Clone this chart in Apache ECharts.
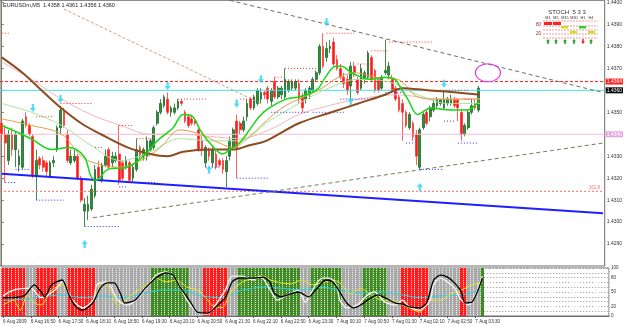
<!DOCTYPE html>
<html><head><meta charset="utf-8">
<script src="https://cdn.jsdelivr.net/npm/echarts/dist/echarts.min.js"></script>
<style>html,body{margin:0;padding:0;background:#fff}#c{width:625px;height:327px}</style>
</head><body><div id="c"></div>
<script>
// ---------- DATA ----------
const headerText = 'EURUSDm,M5  1.4358 1.4361 1.4356 1.4360';
const timeLabels = ["6 Aug 2009","6 Aug 16:50","6 Aug 17:30","6 Aug 18:10","6 Aug 18:50","6 Aug 19:30","6 Aug 20:10","6 Aug 20:50","6 Aug 21:30","6 Aug 22:10","6 Aug 22:50","6 Aug 23:30","7 Aug 00:10","7 Aug 00:50","7 Aug 01:30","7 Aug 02:10","7 Aug 02:50","7 Aug 03:30"];
const slotCount = 175; // bar slots incl. right shift
const categories = Array.from({length: slotCount}, (_, i) => String(i));

const openP = [1.4345,1.4340,1.4328,1.4340,1.4333,1.4326,1.4325,1.4348,1.4344,1.4339,
 1.4321,1.4329,1.4328,1.4327,1.4321,1.4327,1.4333,1.4343,1.4350,1.4340,
 1.4327,1.4328,1.4330,1.4320,1.4305,1.4305,1.4306,1.4312,1.4325,1.4319,
 1.4326,1.4333,1.4327,1.4328,1.4331,1.4327,1.4325,1.4327,1.4320,1.4324,
 1.4334,1.4330,1.4330,1.4333,1.4334,1.4345,1.4350,1.4353,1.4356,1.4350,
 1.4350,1.4352,1.4355,1.4350,1.4348,1.4347,1.4346,1.4342,1.4337,1.4327,
 1.4333,1.4327,1.4331,1.4328,1.4328,1.4323,1.4330,1.4334,1.4346,1.4345,
 1.4342,1.4348,1.4356,1.4352,1.4354,1.4356,1.4359,1.4361,1.4355,1.4364,
 1.4357,1.4358,1.4357,1.4360,1.4361,1.4361,1.4363,1.4357,1.4356,1.4358,
 1.4360,1.4365,1.4368,1.4380,1.4375,1.4379,1.4382,1.4374,1.4370,1.4366,
 1.4365,1.4362,1.4371,1.4365,1.4361,1.4365,1.4366,1.4375,1.4369,1.4365,
 1.4361,1.4368,1.4367,1.4365,1.4361,1.4357,1.4354,1.4350,1.4343,1.4345,
 1.4340,1.4325,1.4343,1.4350,1.4348,1.4351,1.4353,1.4354,1.4352,1.4354,
 1.4354,1.4356,1.4356,1.4350,1.4340,1.4343,1.4350,1.4354,1.4351];
const closeP = [1.4340,1.4336,1.4340,1.4333,1.4340,1.4330,1.4346,1.4344,1.4340,1.4321,
 1.4328,1.4326,1.4325,1.4323,1.4327,1.4328,1.4343,1.4351,1.4344,1.4328,
 1.4330,1.4330,1.4320,1.4310,1.4308,1.4308,1.4315,1.4324,1.4320,1.4326,
 1.4330,1.4325,1.4330,1.4330,1.4319,1.4320,1.4328,1.4319,1.4325,1.4333,
 1.4330,1.4333,1.4337,1.4337,1.4343,1.4350,1.4354,1.4357,1.4350,1.4352,
 1.4352,1.4355,1.4354,1.4346,1.4344,1.4345,1.4345,1.4333,1.4333,1.4334,
 1.4330,1.4333,1.4325,1.4326,1.4324,1.4328,1.4337,1.4342,1.4334,1.4342,
 1.4346,1.4354,1.4352,1.4357,1.4360,1.4359,1.4358,1.4356,1.4360,1.4357,
 1.4361,1.4361,1.4365,1.4364,1.4364,1.4364,1.4356,1.4352,1.4360,1.4361,
 1.4365,1.4368,1.4380,1.4371,1.4379,1.4380,1.4372,1.4370,1.4366,1.4363,
 1.4360,1.4371,1.4368,1.4359,1.4370,1.4368,1.4377,1.4365,1.4360,1.4360,
 1.4366,1.4369,1.4371,1.4360,1.4356,1.4351,1.4350,1.4344,1.4349,1.4339,
 1.4330,1.4342,1.4349,1.4345,1.4352,1.4354,1.4356,1.4356,1.4356,1.4356,
 1.4356,1.4353,1.4352,1.4340,1.4344,1.4350,1.4353,1.4352,1.4361];
const lowP = [1.4337,1.4318,1.4326,1.4330,1.4325,1.4323,1.4324,1.4343,1.4339,1.4320,
 1.4310,1.4324,1.4323,1.4321,1.4320,1.4325,1.4332,1.4340,1.4343,1.4327,
 1.4326,1.4327,1.4319,1.4309,1.4298,1.4301,1.4305,1.4311,1.4319,1.4318,
 1.4325,1.4324,1.4325,1.4327,1.4317,1.4319,1.4324,1.4318,1.4318,1.4323,
 1.4329,1.4328,1.4328,1.4332,1.4333,1.4344,1.4349,1.4352,1.4349,1.4348,
 1.4349,1.4351,1.4353,1.4345,1.4343,1.4344,1.4344,1.4332,1.4330,1.4325,
 1.4328,1.4325,1.4324,1.4325,1.4322,1.4316,1.4328,1.4333,1.4320,1.4340,
 1.4341,1.4346,1.4351,1.4351,1.4353,1.4354,1.4356,1.4354,1.4353,1.4356,
 1.4356,1.4356,1.4356,1.4359,1.4360,1.4360,1.4354,1.4350,1.4354,1.4356,
 1.4359,1.4364,1.4367,1.4370,1.4373,1.4377,1.4371,1.4369,1.4365,1.4361,
 1.4358,1.4356,1.4366,1.4358,1.4360,1.4363,1.4365,1.4364,1.4359,1.4359,
 1.4360,1.4367,1.4365,1.4359,1.4355,1.4350,1.4337,1.4343,1.4342,1.4337,
 1.4326,1.4324,1.4342,1.4344,1.4346,1.4350,1.4352,1.4353,1.4351,1.4353,
 1.4353,1.4352,1.4346,1.4337,1.4339,1.4342,1.4349,1.4351,1.4350];
const highP = [1.4347,1.4344,1.4342,1.4343,1.4341,1.4333,1.4347,1.4350,1.4345,1.4340,
 1.4333,1.4330,1.4330,1.4328,1.4328,1.4330,1.4344,1.4353,1.4352,1.4342,
 1.4333,1.4333,1.4331,1.4321,1.4311,1.4312,1.4317,1.4326,1.4328,1.4327,
 1.4333,1.4334,1.4332,1.4332,1.4344,1.4328,1.4330,1.4328,1.4326,1.4338,
 1.4335,1.4334,1.4339,1.4338,1.4344,1.4351,1.4356,1.4358,1.4359,1.4353,
 1.4354,1.4356,1.4356,1.4351,1.4349,1.4349,1.4347,1.4343,1.4339,1.4335,
 1.4334,1.4334,1.4333,1.4329,1.4329,1.4330,1.4339,1.4343,1.4349,1.4346,
 1.4348,1.4356,1.4357,1.4358,1.4361,1.4361,1.4360,1.4362,1.4361,1.4366,
 1.4362,1.4362,1.4370,1.4365,1.4365,1.4365,1.4365,1.4359,1.4361,1.4362,
 1.4366,1.4369,1.4381,1.4386,1.4382,1.4383,1.4384,1.4376,1.4372,1.4368,
 1.4367,1.4373,1.4373,1.4366,1.4372,1.4369,1.4378,1.4376,1.4370,1.4365,
 1.4367,1.4383,1.4373,1.4367,1.4362,1.4358,1.4356,1.4351,1.4350,1.4346,
 1.4342,1.4343,1.4350,1.4351,1.4353,1.4356,1.4357,1.4356,1.4360,1.4357,
 1.4358,1.4357,1.4356,1.4351,1.4345,1.4351,1.4356,1.4356,1.4362];

// moving averages: [bar index, price]
const brownMA = [[0,1.4375],[6,1.4368],[11.5,1.4360],[16.4,1.4353],[23,1.4345],[28.7,1.4340],[36.4,1.4334],[43,1.4331],[47.9,1.4330],[52.5,1.4332],[60.2,1.4333],[66.8,1.4333],[71.7,1.4335],[76.5,1.4337],[86,1.4345],[95.4,1.4350],[103.2,1.4354],[110.9,1.4358],[116,1.4361],[123.2,1.4360],[131.8,1.4359],[138.4,1.4358]];
const greenMA = [[0,1.4344],[5.8,1.4340],[9.5,1.4337],[12.4,1.4334],[14.4,1.4333],[19.3,1.4334],[23.8,1.4330],[25.8,1.4321],[27.3,1.4319],[30.7,1.4324],[36.4,1.4325],[41,1.4330],[45,1.4337],[49.6,1.4343],[52.5,1.4349],[55.3,1.4348],[57.4,1.4342],[60.2,1.4336],[63.9,1.4331],[66,1.4333],[68.8,1.4336],[71.7,1.4342],[74.5,1.4348],[77.4,1.4352],[82.3,1.4356],[86,1.4357],[89.7,1.4359],[91.7,1.4361],[93.7,1.4366],[96.6,1.4371],[98.3,1.4371],[101.2,1.4368],[104,1.4366],[106.9,1.4365],[110.9,1.4366],[113.8,1.4365],[115.5,1.4361],[117.5,1.4356],[120.4,1.4349],[124.1,1.4352],[129.8,1.4351],[134.7,1.4351],[138.1,1.4355]];
const orangeMA = [[0,1.4347],[8.6,1.4344],[17.3,1.4340],[23,1.4330],[26.7,1.4327],[33.6,1.4325],[40.2,1.4328],[45.9,1.4334],[51.6,1.4342],[57.4,1.4340],[63,1.4336],[66.8,1.4334],[71.7,1.4339],[76.5,1.4346],[81.1,1.4352],[86,1.4356],[91.7,1.4360],[97.5,1.4366],[102.3,1.4368],[108,1.4366],[114.6,1.4365],[120.4,1.4357],[126.1,1.4356],[138.4,1.4356]];
const lightGreenMA = [[0,1.4354],[8.6,1.4350],[17.3,1.4344],[25.8,1.4335],[34.4,1.4328],[43,1.4332],[51.6,1.4338],[60.2,1.4337],[68.8,1.4337],[77.4,1.4346],[86,1.4354],[94.6,1.4361],[103.2,1.4365],[111.8,1.4364],[120.4,1.4358],[129,1.4354],[138.4,1.4354]];
const pinkMA = [[0,1.4373],[8.6,1.4365],[17.3,1.4356],[25.8,1.4349],[34.4,1.4344],[43,1.4340],[51.6,1.4340],[60.2,1.4339],[68.8,1.4338],[77.4,1.4342],[86,1.4349],[94.6,1.4353],[103.2,1.4356],[114.6,1.4358],[126.1,1.4356],[138.4,1.4356]];

// trend lines
const blueLine = [[0,1.4322],[174,1.4304]];
const resistLine = [[66,1.4401],[174,1.4359]];
const supportLine = [[26.4,1.4302],[174,1.4336]];
const brownDash = [[18,1.4397],[75,1.4354]];

// horizontal levels
const levelRed = 1.4364, levelBid = 1.4360, levelPink = 1.4340, levelFib = 1.4314;

// fractal dotted segments: [price, fromBar, toBar]
const redFrac = [[1.4386,0,2],[1.4348,10,15],[1.4354,17,26],[1.4334,27,29],[1.4344,34,38],[1.4338,39,44],[1.4356,51,59],[1.4356,69,73],[1.4366,79,81],[1.4370,82,91],[1.4386,94,102],[1.4372,103,107],[1.4378,107,112],[1.4382,112,125],[1.4360,126,135],[1.4356,134,136]];
const blueFrac = [[1.4318,1,4],[1.4324,4,8],[1.4310,10,18],[1.4298,24,34],[1.4316,34,36],[1.4318,38,45],[1.4325,59,63],[1.4320,68,77],[1.4350,78,89],[1.4350,90,99],[1.4356,98,108],[1.4359,111,117],[1.4336,117,119],[1.4324,121,128],[1.4346,128,131],[1.4336,132,138]];

const downArrows = [[9,1.4352],[17,1.4356],[48,1.4362],[68,1.4354],[75,1.4365],[94,1.4391],[128,1.4363]];
const upArrows = [[24,1.4290],[60,1.4324],[101,1.4355],[121,1.4316]];
const ellipseAnchor = [140.7, 1.4368];

// oscillator panel
const stripeRuns = [['R',7],['S',3],['R',6],['S',3],['R',8],['S',16],['G',11],['S',4],['R',7],['S',3],['G',18],['S',3],['G',9],['S',6],['G',7],['S',4],['R',8],['S',9],['R',2],['S',4],['G',1]];
const blackK = [[0,38],[6,42],[9,65],[11,50],[12,40],[14,65],[17,75],[19,44],[21,19],[23,12],[26,29],[28,58],[30,69],[32,69],[34,44],[35,27],[38,33],[41,58],[44,79],[47,90],[49,85],[51,60],[54,29],[56,8],[59,6],[61,17],[64,38],[66,71],[68,79],[72,79],[75,81],[77,69],[78,48],[80,40],[82,44],[85,50],[88,40],[90,54],[93,75],[95,71],[97,50],[99,27],[101,17],[103,23],[106,38],[108,44],[110,38],[113,27],[115,25],[117,19],[120,17],[122,27],[124,75],[126,85],[128,81],[130,69],[132,50],[133,27],[135,29],[137,58],[138,79]];
const whiteD = [[0,42],[3,54],[8,58],[11,38],[15,54],[17,71],[20,33],[23,17],[26,33],[27,65],[30,71],[33,33],[36,23],[39,38],[42,65],[44,85],[47,92],[50,75],[53,33],[56,8],[59,4],[61,21],[64,54],[66,83],[69,83],[72,75],[74,83],[77,54],[79,33],[82,44],[85,54],[87,29],[90,65],[92,79],[94,79],[96,65],[97,33],[99,17],[102,23],[105,44],[107,50],[110,29],[113,23],[115,33],[117,19],[120,12],[123,33],[124,65],[126,79],[128,71],[130,58],[132,33],[134,23],[136,44],[138,83]];
const yellowS = [[0,23],[3,33],[5,12],[7,44],[9,27],[11,23],[14,54],[17,65],[20,33],[23,17],[26,33],[29,71],[31,54],[33,23],[36,38],[39,54],[42,69],[44,79],[47,71],[50,75],[53,60],[56,54],[59,33],[60,23],[63,17],[66,54],[69,71],[72,79],[75,83],[77,75],[80,69],[83,67],[86,75],[89,65],[92,69],[95,75],[97,69],[100,46],[103,58],[106,44],[109,33],[112,33],[115,23],[117,17],[120,8],[123,33],[126,33],[129,46],[132,54],[135,65],[138,69]];
const cyanL = [[0,33],[6,35],[11,40],[17,44],[23,38],[29,42],[34,38],[40,46],[46,54],[52,54],[57,42],[63,38],[69,54],[75,60],[80,58],[86,54],[92,60],[97,54],[103,48],[109,50],[115,44],[120,38],[126,42],[132,44],[138,54]];
const subLabels = [100, 80, 50, 20, 0];
const hiddenTicks = ['1.4360', '1.4340'];

// ---------- BUILD ----------
const FONT = '"Liberation Sans", Arial, sans-serif';
const stripeColor = {R:'#ff1c1c', S:'#a9a9a9', G:'#3f8a22'};
const stripeData = [];
stripeRuns.forEach(([k, n]) => { for (let j = 0; j < n; j++) stripeData.push({value:100, itemStyle:{color:stripeColor[k]}}); });
function segData(segs){ const d=[]; segs.forEach(([p,a,b]) => { d.push([a,p]); d.push([b,p]); d.push([b,'-']); }); return d; }
const tickFn = (idx) => idx % 8 === 0 && idx / 8 < timeLabels.length;
const maLine = (data, color, width, z) => ({type:'line', xAxisIndex:1, yAxisIndex:0, data, symbol:'none', smooth:0.35, lineStyle:{color, width}, z:z||4, silent:true});
const trend = (data, color, width, type) => ({type:'line', xAxisIndex:1, yAxisIndex:0, data, symbol:'none', lineStyle:{color, width, type}, z:4, silent:true});
const osc = (data, color, width, z) => ({type:'line', xAxisIndex:3, yAxisIndex:1, data, symbol:'none', smooth:0.25, lineStyle:{color, width}, z, silent:true});
const arrowPath = 'path://M4,0 L8,5 L5.5,5 L5.5,10 L2.5,10 L2.5,5 L0,5 Z';
const hLine = (lvl, color, type, txt, bg) => ({type:'line', xAxisIndex:1, yAxisIndex:0, silent:true, z:4, symbol:'none',
  data:[[-0.5, lvl], [slotCount - 0.5, lvl]], lineStyle:{color, width:1, type},
  endLabel: txt ? {show:true, formatter:txt, backgroundColor:bg, color:'#fff', fontSize:5, fontFamily:FONT, padding:[1,1,0,1], distance:1} : {show:false}});

const chart = echarts.init(document.getElementById('c'), null, {renderer:'canvas', width:625, height:327});
const option = {
  animation:false,
  backgroundColor:'#ffffff',
  textStyle:{fontFamily:FONT},
  grid:[
    {left:-2, top:0, width:611, height:266, show:true, borderColor:'#6e6e6e', borderWidth:1, backgroundColor:'#fff'},
    {left:-2, top:268, width:611, height:48, show:true, borderColor:'#6e6e6e', borderWidth:1, backgroundColor:'#fff'}
  ],
  xAxis:[
    {type:'category', gridIndex:0, data:categories, show:false, boundaryGap:true},
    {type:'value', gridIndex:0, min:-0.5, max:slotCount-0.5, show:false},
    {type:'category', gridIndex:1, data:categories, boundaryGap:true, z:3,
      axisLine:{show:true, lineStyle:{color:'#6e6e6e'}},
      axisTick:{show:true, interval:tickFn, alignWithLabel:true, length:2, lineStyle:{color:'#555'}},
      axisLabel:{interval:tickFn, formatter:(v, idx) => timeLabels[idx / 8] || '', align:'left', fontSize:4.6, color:'#333', margin:3},
      splitLine:{show:true, interval:0, lineStyle:{color:'rgba(255,255,255,0.75)', type:[1,1], width:1}}},
    {type:'value', gridIndex:1, min:-0.5, max:slotCount-0.5, show:false}
  ],
  yAxis:[
    {type:'value', gridIndex:0, position:'right', min:1.4280, max:1.4401, interval:0.001,
      axisLine:{show:true, lineStyle:{color:'#7b7b62'}},
      axisTick:{show:true, length:2, lineStyle:{color:'#7b7b62'}},
      splitLine:{show:false},
      axisLabel:{fontSize:5, color:'#333', margin:2, showMinLabel:false, showMaxLabel:false,
        formatter:v => { const s = v.toFixed(4); return hiddenTicks.includes(s) ? '' : s; }}},
    {type:'value', gridIndex:1, position:'right', min:0, max:100, interval:10,
      axisLine:{show:true, lineStyle:{color:'#7b7b62'}}, axisTick:{show:false},
      splitLine:{show:true, lineStyle:{color:'#8c8c8c', type:[1,2]}},
      axisLabel:{fontSize:4.5, color:'#333', margin:2, formatter:v => subLabels.includes(v) ? String(v) : ''}}
  ],
  series:[
    hLine(levelPink, '#f4bad8', 'solid', '1.4340', '#e3a6e3'),
    hLine(levelFib, '#ff6a6a', [2,2], null, null),
    hLine(levelRed, '#ff1e1e', [3,2], '1.4364', '#ff2020'),
    hLine(levelBid, '#3fe3ec', 'solid', '1.4360', '#000000'),
    {type:'scatter', xAxisIndex:1, yAxisIndex:0, data:[[171.5, levelFib]], symbolSize:0, silent:true, z:4,
      label:{show:true, position:'top', distance:1, formatter:'161.8', color:'#ff4040', fontSize:4.5}},
    {type:'candlestick', xAxisIndex:0, yAxisIndex:0, barWidth:2.2, z:3,
      data: openP.map((o, i) => [o, closeP[i], lowP[i], highP[i]]),
      itemStyle:{color:'#2f8f3a', color0:'#ff1a1a', borderColor:'#1c6a26', borderColor0:'#ff3a3a', borderWidth:0.8}},
    maLine(pinkMA, '#f2b8b8', 1),
    maLine(lightGreenMA, '#a6e6a0', 1),
    maLine(orangeMA, '#e0a048', 1),
    maLine(brownMA, '#8e4b1f', 2, 5),
    maLine(greenMA, '#14d814', 1.5, 6),
    trend(blueLine, '#1f1fff', 2, 'solid'),
    trend(resistLine, '#6d6d5c', 1, [4,3]),
    trend(supportLine, '#7a7a5c', 1, [4,3]),
    trend(brownDash, '#c9a290', 1, [3,2]),
    {type:'line', xAxisIndex:1, yAxisIndex:0, data:segData(redFrac), symbol:'none', lineStyle:{color:'#ff2a2a', width:1, type:[1,2]}, z:4, silent:true},
    {type:'line', xAxisIndex:1, yAxisIndex:0, data:segData(blueFrac), symbol:'none', lineStyle:{color:'#2a2aff', width:1, type:[1,2]}, z:4, silent:true},
    {type:'scatter', xAxisIndex:1, yAxisIndex:0, data:downArrows, symbol:arrowPath, symbolSize:[6,8], symbolRotate:180, itemStyle:{color:'#1fd6f2'}, z:7, silent:true},
    {type:'scatter', xAxisIndex:1, yAxisIndex:0, data:upArrows, symbol:arrowPath, symbolSize:[6,8], itemStyle:{color:'#1fd6f2'}, z:7, silent:true},
    {type:'bar', xAxisIndex:2, yAxisIndex:1, data:stripeData, barCategoryGap:'0%', z:2, silent:true},
    osc(cyanL, '#22d6e6', 1, 10),
    osc(yellowS, '#e6e628', 1, 11),
    osc(whiteD, '#f4f4f4', 1.3, 12),
    osc(blackK, '#000000', 1.3, 13)
  ]
};
chart.setOption(option);

// ---------- ANNOTATIONS ----------
const [ex, ey] = chart.convertToPixel({xAxisIndex:1, yAxisIndex:0}, ellipseAnchor);
const g = [];
const t = (text, x, y, size, fill, align) => g.push({type:'text', x, y, z:30, style:{text, fill, font:size + 'px ' + FONT, align:align||'left', verticalAlign:'top'}});
t(headerText, 3, 2, 5.5, '#222');
t('STOCH  5 3 3', 567, 9, 6, '#333', 'center');
const tfX = [548, 556, 565, 574, 583, 591];
['M1','M5','M15','M30','H1','H4'].forEach((s, k) => t(s, tfX[k], 16, 3.8, '#333', 'center'));
[21, 26, 30, 34, 38].forEach(y => g.push({type:'line', z:30, shape:{x1:543, y1:y, x2:598, y2:y}, style:{stroke:'#e88080', lineWidth:0.8, lineDash:[2,1]}}));
t('80', 536, 22, 4.5, '#b02020');
t('20', 536, 31, 4.5, '#b02020');
const r = (x, y, w, h, c) => g.push({type:'rect', z:31, shape:{x, y, width:w, height:h}, style:{fill:c}});
r(544, 22, 8, 3, '#ff2020'); r(553, 22, 8, 3, '#ff2020');
r(561, 26, 7, 2.5, '#d8d820'); r(570, 31, 7, 2.5, '#d8d820');
r(579, 26, 7, 2.5, '#30d030'); r(588, 31, 7, 2.5, '#d8d820');
const arr = (cx, up, c) => {
  const pts = up ? [[cx,39],[cx+2,41.5],[cx+0.8,41.5],[cx+0.8,44],[cx-0.8,44],[cx-0.8,41.5],[cx-2,41.5]]
                 : [[cx,44],[cx+2,41.5],[cx+0.8,41.5],[cx+0.8,39],[cx-0.8,39],[cx-0.8,41.5],[cx-2,41.5]];
  g.push({type:'polygon', z:31, shape:{points:pts}, style:{fill:c}});
};
[548, 556, 565, 574, 591].forEach(x => arr(x, true, '#2a9a2a'));
arr(583, false, '#ff2020');
g.push({type:'circle', z:30, x:ex, y:ey, scaleY:0.72, shape:{cx:0, cy:0, r:12.5}, style:{fill:'none', stroke:'#e436e4', lineWidth:1.2}});
chart.setOption({graphic:g});
</script>
</body></html>
